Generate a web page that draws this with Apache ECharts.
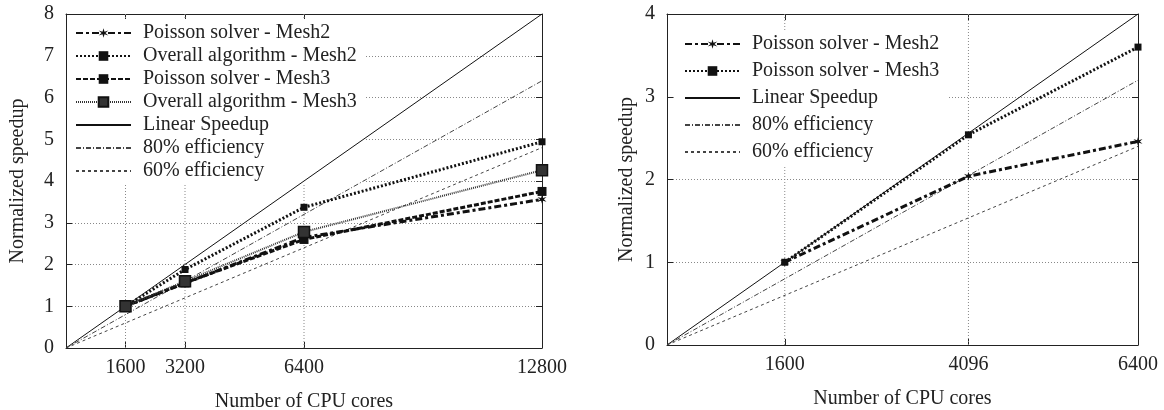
<!DOCTYPE html>
<html>
<head>
<meta charset="utf-8">
<script src="https://cdn.jsdelivr.net/npm/echarts@6/dist/echarts.min.js"></script>
<style>
html,body{margin:0;padding:0;background:#fff;}
#c1{position:absolute;left:0;top:0;width:582px;height:410px;}
#c2{position:absolute;left:582px;top:0;width:582px;height:410px;}
</style>
</head>
<body>
<div id="c1"></div>
<div id="c2"></div>
<script>
// ---- data: left chart ----
const coresL = [1600, 3200, 6400, 12800];
const xTicksL = [1600, 3200, 6400, 12800];
const poissonMesh2L = [1, 1.55, 2.65, 3.56];
const overallMesh2L = [1, 1.88, 3.37, 4.94];
const poissonMesh3L = [1, 1.56, 2.6, 3.75];
const overallMesh3L = [1, 1.6, 2.78, 4.26];
const refCoresL = [0, 12800];
const linearL = [0, 8];
const eff80L = [0, 6.4];
const eff60L = [0, 4.8];

// ---- data: right chart ----
const coresR = [1600, 4096, 6400];
const xTicksR = [1600, 4096, 6400];
const poissonMesh2R = [1, 2.04, 2.46];
const poissonMesh3R = [1, 2.54, 3.6];
const refCoresR = [0, 6400];
const linearR = [0, 4];
const eff80R = [0, 3.2];
const eff60R = [0, 2.4];

const FONT = 'Liberation Serif';
const STAR = 'path://M5,0 L6,3.6 L9.8,2.4 L7,5 L9.8,7.6 L6,6.4 L5,10 L4,6.4 L0.2,7.6 L3,5 L0.2,2.4 L4,3.6 Z';
const zip = (xs, ys) => xs.map((x, i) => [x, ys[i]]);

function axes(xmax, ymax, xticks, yNameGap) {
  const tickStyle = {lineStyle: {color: '#222', width: 1}};
  return {
    xAxis: [{
      type: 'value', min: 0, max: xmax, position: 'bottom',
      name: 'Number of CPU cores', nameLocation: 'middle', nameGap: 44, nameMoveOverlap: false,
      nameTextStyle: {fontFamily: FONT, fontSize: 20, color: '#222'},
      axisLine: {show: true, onZero: false, lineStyle: {color: '#222', width: 1}},
      axisTick: Object.assign({show: true, inside: true, length: 6, customValues: xticks}, tickStyle),
      axisLabel: {customValues: xticks, formatter: v => String(v), fontFamily: FONT, fontSize: 20, color: '#222', margin: 10},
      splitLine: {show: false}
    }, {
      type: 'value', min: 0, max: xmax, position: 'top',
      axisLine: {show: true, onZero: false, lineStyle: {color: '#222', width: 1}},
      axisTick: Object.assign({show: true, inside: true, length: 6, customValues: xticks}, tickStyle),
      axisLabel: {show: false},
      splitLine: {show: false}
    }],
    yAxis: [{
      type: 'value', min: 0, max: ymax, interval: 1, position: 'left',
      name: 'Normalized speedup', nameLocation: 'middle', nameGap: yNameGap, nameMoveOverlap: false,
      nameTextStyle: {fontFamily: FONT, fontSize: 20, color: '#222'},
      axisLine: {show: true, onZero: false, lineStyle: {color: '#222', width: 1}},
      axisTick: Object.assign({show: true, inside: true, length: 6}, tickStyle),
      axisLabel: {fontFamily: FONT, fontSize: 20, color: '#222', margin: 12},
      splitLine: {show: true, lineStyle: {color: '#888', type: [1, 2], width: 1}}
    }, {
      type: 'value', min: 0, max: ymax, interval: 1, position: 'right',
      axisLine: {show: true, onZero: false, lineStyle: {color: '#222', width: 1}},
      axisTick: Object.assign({show: true, inside: true, length: 6}, tickStyle),
      axisLabel: {show: false},
      splitLine: {show: false}
    }]
  };
}

function refSeries(cores, lin, e80, e60, vgrid, ymax) {
  const grids = vgrid.map(v => ({
    name: 'vgrid' + v, type: 'line', data: [[v, 0], [v, ymax]], symbol: 'none', silent: true,
    lineStyle: {color: '#888', type: [1, 2], width: 1}, itemStyle: {color: '#888'}, z: 0
  }));
  return grids.concat([
    {name: 'Linear Speedup', type: 'line', data: zip(cores, lin), symbol: 'none',
     lineStyle: {color: '#111', width: 1}, itemStyle: {color: '#111'}, z: 3},
    {name: '80% efficiency', type: 'line', data: zip(cores, e80), symbol: 'none',
     lineStyle: {color: '#444', width: 1, type: [5, 2, 1, 2]}, itemStyle: {color: '#444'}, z: 3},
    {name: '60% efficiency', type: 'line', data: zip(cores, e60), symbol: 'none',
     lineStyle: {color: '#444', width: 1, type: [3, 3]}, itemStyle: {color: '#444'}, z: 3}
  ]);
}

const NOSYM = ['Linear Speedup', '80% efficiency', '60% efficiency'];
function legend(names, top, left, gap) {
  return {
    data: names.map(n => NOSYM.includes(n) ? {name: n, itemStyle: {opacity: 0}} : {name: n}),
    orient: 'vertical', top: top, left: left,
    backgroundColor: '#fff', padding: [4, 8, 4, 8],
    itemWidth: 55, itemHeight: 12, itemGap: gap,
    textStyle: {fontFamily: FONT, fontSize: 20, color: '#222', lineHeight: 20, padding: [0, 0, 0, 7]},
    selectedMode: false, z: 1
  };
}

// ---- left chart ----
const c1 = echarts.init(document.getElementById('c1'));
const a1 = axes(12800, 8, xTicksL, 38);
c1.setOption({
  animation: false,
  grid: {left: 66, top: 14, width: 476, height: 334, outerBoundsMode: 'none', containLabel: false},
  xAxis: a1.xAxis, yAxis: a1.yAxis,
  legend: legend(['Poisson solver - Mesh2', 'Overall algorithm - Mesh2', 'Poisson solver - Mesh3',
    'Overall algorithm - Mesh3', 'Linear Speedup', '80% efficiency', '60% efficiency'], 19, 67, 3),
  series: [
    {name: 'Poisson solver - Mesh2', type: 'line', data: zip(coresL, poissonMesh2L),
     symbol: STAR, symbolSize: 9, lineStyle: {color: '#111', width: 3, type: [7, 3, 3, 3]},
     itemStyle: {color: '#111'}, z: 5},
    {name: 'Overall algorithm - Mesh2', type: 'line', data: zip(coresL, overallMesh2L),
     symbol: 'rect', symbolSize: 7, lineStyle: {color: '#111', width: 3, type: [2, 2]},
     itemStyle: {color: '#111'}, z: 5},
    {name: 'Poisson solver - Mesh3', type: 'line', data: zip(coresL, poissonMesh3L),
     symbol: 'rect', symbolSize: 9, lineStyle: {color: '#111', width: 3, type: [5, 2]},
     itemStyle: {color: '#111'}, z: 5},
    {name: 'Overall algorithm - Mesh3', type: 'line', data: zip(coresL, overallMesh3L),
     symbol: 'rect', symbolSize: 11, lineStyle: {color: '#333', width: 2, type: [1, 1]},
     itemStyle: {color: '#333', borderColor: '#111', borderWidth: 1.5}, z: 5}
  ].concat(refSeries(refCoresL, linearL, eff80L, eff60L, [1600, 3200, 6400], 8))
});

// ---- right chart ----
const c2 = echarts.init(document.getElementById('c2'));
const a2 = axes(6400, 4, xTicksR, 30);
c2.setOption({
  animation: false,
  grid: {left: 85, top: 14, width: 471, height: 331, outerBoundsMode: 'none', containLabel: false},
  xAxis: a2.xAxis, yAxis: a2.yAxis,
  legend: legend(['Poisson solver - Mesh2', 'Poisson solver - Mesh3', 'Linear Speedup',
    '80% efficiency', '60% efficiency'], 30, 94, 7),
  series: [
    {name: 'Poisson solver - Mesh2', type: 'line', data: zip(coresR, poissonMesh2R),
     symbol: STAR, symbolSize: 9, lineStyle: {color: '#111', width: 3, type: [7, 3, 3, 3]},
     itemStyle: {color: '#111'}, z: 5},
    {name: 'Poisson solver - Mesh3', type: 'line', data: zip(coresR, poissonMesh3R),
     symbol: 'rect', symbolSize: 7, lineStyle: {color: '#111', width: 3, type: [2, 2]},
     itemStyle: {color: '#111'}, z: 5}
  ].concat(refSeries(refCoresR, linearR, eff80R, eff60R, [1600, 4096], 4))
});
</script>
</body>
</html>
